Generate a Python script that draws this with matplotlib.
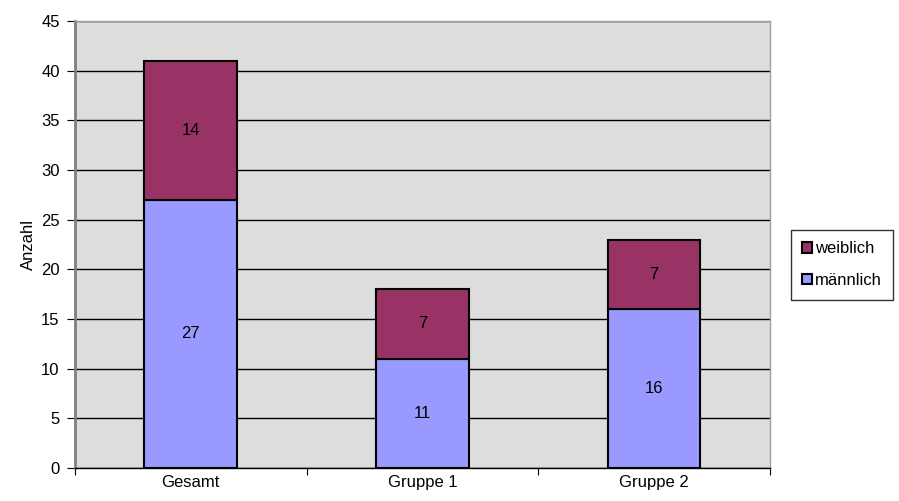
import matplotlib.pyplot as plt
import numpy as np

plt.rcParams['font.family'] = ['Liberation Sans', 'DejaVu Sans']

categories = ['Gesamt', 'Gruppe 1', 'Gruppe 2']
maennlich = [27, 11, 16]
weiblich = [14, 7, 7]

FS = 12

fig = plt.figure(figsize=(8.99, 5.01), dpi=100)
ax = fig.add_axes([0.0834, 0.066, 0.773, 0.892])
ax.set_facecolor('#DDDDDD')

x = np.arange(len(categories))
b1 = ax.bar(x, maennlich, width=0.4, color='#9999FF', edgecolor='black',
            linewidth=1.5, label='männlich', zorder=3)
b2 = ax.bar(x, weiblich, width=0.4, bottom=maennlich, color='#993366',
            edgecolor='black', linewidth=1.5, label='weiblich', zorder=3)

for xi, m, w in zip(x, maennlich, weiblich):
    ax.text(xi, m / 2, str(m), ha='center', va='center', fontsize=FS, zorder=4)
    ax.text(xi, m + w / 2, str(w), ha='center', va='center', fontsize=FS, zorder=4)

ax.set_xlim(-0.5, 2.5)
ax.set_ylim(0, 45)
ax.set_yticks(range(0, 46, 5))
ax.yaxis.grid(True, color='black', linewidth=1, zorder=1)
ax.set_axisbelow(True)

# category ticks at the boundaries, labels in the middle
ax.set_xticks([-0.5, 0.5, 1.5, 2.5])
ax.set_xticklabels([])
ax.set_xticks(x, minor=True)
ax.set_xticklabels(categories, minor=True, fontsize=FS)
ax.tick_params(axis='x', which='minor', length=0, pad=5)
ax.tick_params(axis='x', which='major', length=5, color='black')
ax.tick_params(axis='y', length=6, labelsize=FS, color='black', pad=5)

ax.set_ylabel('Anzahl', fontsize=FS, labelpad=4)

for side in ['top', 'right']:
    ax.spines[side].set_color('#A0A0A0')
    ax.spines[side].set_linewidth(1)
ax.spines['left'].set_color('#808080')
ax.spines['left'].set_linewidth(2)
ax.spines['bottom'].set_color('black')
ax.spines['bottom'].set_linewidth(1)

leg = ax.legend(handles=[b2, b1], loc='center left', bbox_to_anchor=(1.03, 0.455),
                fontsize=FS, frameon=True, fancybox=False, edgecolor='black',
                handlelength=0.6, handleheight=0.6, handletextpad=0.15,
                labelspacing=1.0, borderpad=0.7, borderaxespad=0)
leg.get_frame().set_linewidth(1)

fig.savefig('out.png', dpi=100)
